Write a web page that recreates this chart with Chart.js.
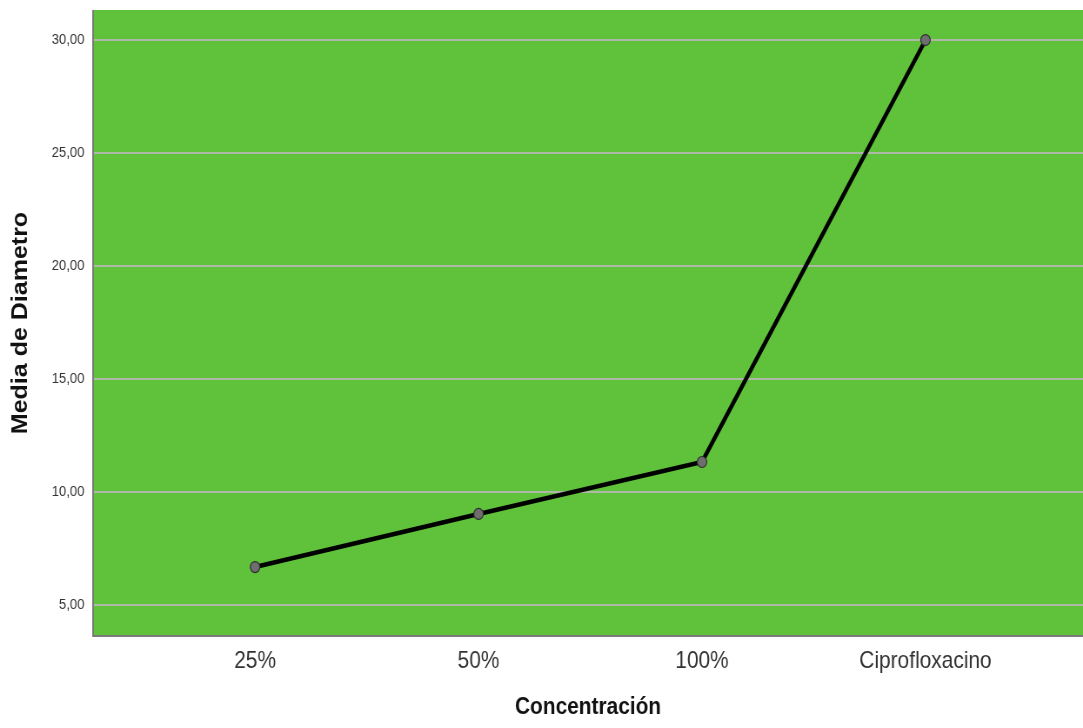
<!DOCTYPE html>
<html>
<head>
<meta charset="utf-8">
<script src="https://cdn.jsdelivr.net/npm/chart.js@4"></script>
<style>
  html, body { margin: 0; padding: 0; background: #ffffff; overflow: hidden; }
  canvas { display: block; }
</style>
</head>
<body>
<!-- drawn 1245 wide and shown at 1083: the source picture is squeezed horizontally -->
<canvas id="ChartMedia" width="1245" height="728" style="width:1083px;height:728px"></canvas>
<script>
(function () {
  "use strict";

  // data
  const categories = ['25%', '50%', '100%', 'Ciprofloxacino'];
  const mediaDiametro = [6.68, 9.03, 11.33, 30.0];
  const yTicks = [5, 10, 15, 20, 25, 30];

  const plot_green  = '#5fc23a';
  const grid_gray   = '#adb8a6';
  const axis_gray   = '#7a7a7a';
  const text_dark   = '#333333';
  const sans        = '"Liberation Sans", Arial, sans-serif';

  const points = categories.map((c, i) => ({ x: i, y: mediaDiametro[i] }));

  const plotBackground = {
    id: 'plotBackground',
    beforeDraw(chart) {
      const { ctx, chartArea: a } = chart;
      ctx.save();
      ctx.fillStyle = plot_green;
      ctx.fillRect(a.left, a.top, a.right - a.left, a.bottom - a.top);
      ctx.restore();
    },
    afterDatasetsDraw(chart) {
      const { ctx, chartArea: a } = chart;
      ctx.save();
      ctx.strokeStyle = axis_gray;
      ctx.lineWidth = 2;
      ctx.beginPath();
      ctx.moveTo(a.left, a.top);
      ctx.lineTo(a.left, a.bottom);
      ctx.lineTo(a.right, a.bottom);
      ctx.stroke();
      ctx.restore();
    }
  };

  const canvas = document.getElementById('ChartMedia');
  new Chart(canvas.getContext('2d'), {
    type: 'line',
    data: {
      datasets: [{
        label: 'Media de Diametro',
        data: points,
        borderColor: '#000000',
        borderWidth: 4.5,
        pointRadius: 5.5,
        pointBackgroundColor: '#6e6e6e',
        pointBorderColor: '#2e2e2e',
        pointBorderWidth: 1.2,
        tension: 0
      }]
    },
    options: {
      responsive: false,
      animation: false,
      devicePixelRatio: 1,
      layout: { autoPadding: false, padding: { top: 10, right: 0, left: 0, bottom: 0 } },
      plugins: {
        legend: { display: false },
        tooltip: { enabled: false }
      },
      scales: {
        x: {
          type: 'linear',
          min: -0.725,
          max: 3.705,
          afterBuildTicks: (axis) => { axis.ticks = categories.map((c, i) => ({ value: i })); },
          afterFit: (axis) => {
            axis.height = 92;
            axis.paddingLeft = 0;
            axis.paddingRight = 0;
          },
          grid: { display: false, drawTicks: false },
          border: { display: false },
          ticks: {
            padding: 11,
            color: text_dark,
            font: { family: sans, size: 24 },
            callback: (v) => categories[v]
          },
          title: {
            display: true,
            text: 'Concentración',
            color: '#111111',
            font: { family: sans, size: 24, weight: 'bold' },
            padding: { top: 0, bottom: 6 }
          }
        },
        y: {
          min: 3.63,
          max: 31.33,
          afterBuildTicks: (axis) => { axis.ticks = yTicks.map(v => ({ value: v })); },
          afterFit: (axis) => {
            axis.width = 107;
            axis.paddingTop = 0;
            axis.paddingBottom = 0;
          },
          grid: { color: grid_gray, lineWidth: 2, drawTicks: false },
          border: { display: false },
          ticks: {
            padding: 10,
            color: text_dark,
            font: { family: sans, size: 15 },
            callback: (v) => v.toFixed(2).replace('.', ',')
          },
          title: {
            display: true,
            text: 'Media de Diametro',
            color: '#111111',
            font: { family: sans, size: 25, weight: 'bold' },
            padding: { top: 9, bottom: 0 }
          }
        }
      }
    },
    plugins: [plotBackground]
  });
})();
</script>
</body>
</html>
